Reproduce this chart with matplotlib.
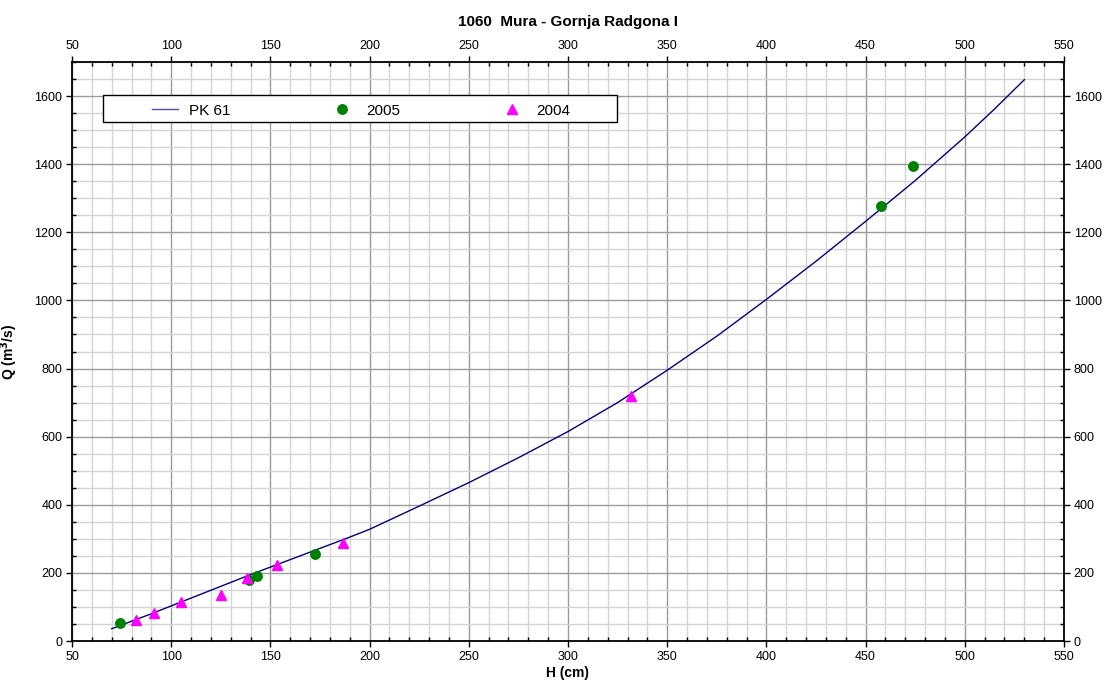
import matplotlib
matplotlib.use("Agg")
import matplotlib.pyplot as plt
from matplotlib.patches import Rectangle
from matplotlib.ticker import MultipleLocator

plt.rcParams['font.family'] = ['Liberation Sans', 'DejaVu Sans']

# Rating curve PK 61: water level H (cm) vs discharge Q (m3/s)
curve_h = [70, 80, 90, 100, 110, 120, 130, 140, 150, 160, 170, 180, 190, 200,
           225, 250, 275, 300, 325, 350, 375, 400, 425, 450, 475, 500, 515, 530]
curve_q = [36, 58, 80, 103, 126, 149, 172, 195, 217, 239, 261, 283, 305, 328,
           396, 465, 538, 615, 700, 795, 895, 1003, 1115, 1232, 1352, 1480, 1562, 1648]

# Discharge measurements 2005
h_2005 = [74.1, 139.2, 143.1, 172.4, 457.9, 473.9]
q_2005 = [54, 180, 192, 255, 1276, 1395]

# Discharge measurements 2004
h_2004 = [82.3, 91.2, 105.0, 124.9, 138.0, 153.5, 186.4, 331.6]
q_2004 = [61, 82, 115, 136, 185, 222, 288, 718]

fig = plt.figure(figsize=(11.06, 6.84), dpi=100)
ax = fig.add_axes([72 / 1106, 1 - 641 / 684, (1064 - 72) / 1106, (641 - 62) / 684])

ax.set_xlim(50, 550)
ax.set_ylim(0, 1700)

ax.xaxis.set_major_locator(MultipleLocator(50))
ax.xaxis.set_minor_locator(MultipleLocator(10))
ax.yaxis.set_major_locator(MultipleLocator(200))
ax.yaxis.set_minor_locator(MultipleLocator(50))

ax.set_axisbelow(True)
ax.grid(which='minor', color='#d4d4d4', linewidth=1.0)
ax.grid(which='major', color='#9a9a9a', linewidth=1.0)

ax.plot(curve_h, curve_q, color='#000080', linewidth=1.0, label='PK 61', zorder=3)
ax.plot(h_2005, q_2005, linestyle='none', marker='o', markersize=6.8,
        color='#008000', label='2005', zorder=4)
ax.plot(h_2004, q_2004, linestyle='none', marker='^', markersize=7.5,
        color='#ff00ff', label='2004', zorder=4)

ax.tick_params(which='both', top=True, right=True, labeltop=True, labelright=True,
               labelsize=9, width=1.0, color='black')
ax.tick_params(which='major', direction='out', length=4, pad=3)
ax.tick_params(which='minor', direction='in', length=3)

for s in ax.spines.values():
    s.set_linewidth(1.3)
    s.set_color('black')

ax.set_title('1060  Mura - Gornja Radgona I', fontsize=11, fontweight='bold', pad=26)
ax.set_xlabel('H (cm)', fontsize=10, fontweight='bold', labelpad=2)
ax.set_ylabel('Q (m$^\\mathbf{3}$/s)', fontsize=10, fontweight='bold', labelpad=10)

# Legend box with the three entries spread across it
box_x0, box_x1 = 31 / 992, 545 / 992
box_y0, box_y1 = (641 - 122) / 579, (641 - 95) / 579
ax.add_patch(Rectangle((box_x0, box_y0), box_x1 - box_x0, box_y1 - box_y0,
                       transform=ax.transAxes, facecolor='white', edgecolor='black',
                       linewidth=1.0, zorder=5))

leg = ax.legend(loc='center left', ncol=3,
                bbox_to_anchor=(80 / 992, (box_y0 + box_y1) / 2 - 2 / 579),
                frameon=False, fontsize=11, handlelength=1.7,
                handletextpad=0.7, columnspacing=6.5, borderpad=0,
                borderaxespad=0)
leg.set_zorder(6)
leg.get_lines()[0].set_color('#5050a0')

fig.savefig('out.png', dpi=100)
